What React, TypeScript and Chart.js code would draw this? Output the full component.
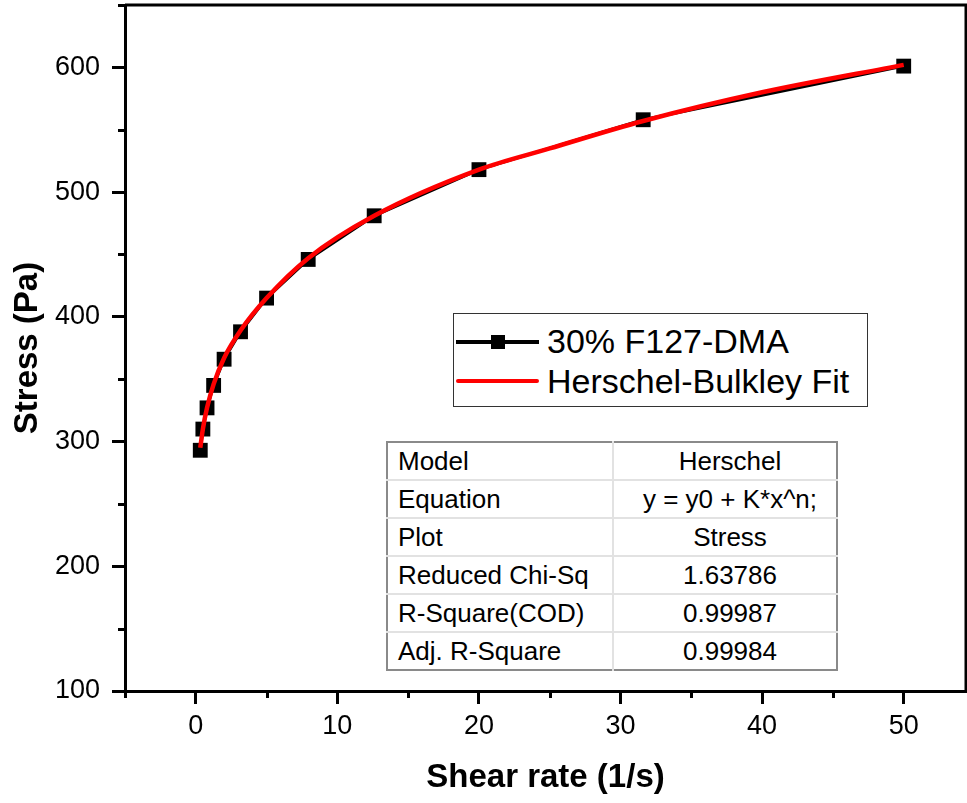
import React, { useEffect, useRef } from "react";
import { Chart, registerables } from "chart.js";

Chart.register(...registerables);

// ---- data ----
const shearRate = [0.316, 0.5, 0.794, 1.26, 2, 3.16, 5, 7.94, 12.6, 20, 31.6, 50];
const stress = [293, 310, 327, 345, 366, 388, 415, 446, 481, 518, 558, 601];
const fitX = [0.316, 0.5, 0.794, 1.26, 2, 3.16, 5, 7.94, 12.6, 20, 25, 31.6, 40, 50];
const fitY = [295, 310, 327, 346, 367, 389, 415, 447, 481, 518, 535, 557, 580, 602];

const xMajorTicks = [0, 10, 20, 30, 40, 50];
const xMinorTicks = [-5, 5, 15, 25, 35, 45];
const yMajorTicks = [100, 200, 300, 400, 500, 600];
const yMinorTicks = [150, 250, 350, 450, 550, 650];

const seriesLabel = "30% F127-DMA";
const fitLabel = "Herschel-Bulkley Fit";
const tableLabels = ["Model", "Equation", "Plot", "Reduced Chi-Sq", "R-Square(COD)", "Adj. R-Square"];
const tableValues = ["Herschel", "y = y0 + K*x^n;", "Stress", "1.63786", "0.99987", "0.99984"];

const FONT = "'Liberation Sans', Arial, sans-serif";

const minorTicksPlugin = {
  id: "minorTicksFrame",
  afterDraw(chart: any) {
    const { ctx, chartArea } = chart;
    const x = chart.scales.x;
    const y = chart.scales.y;
    ctx.save();
    ctx.strokeStyle = "#000";
    ctx.lineWidth = 3;
    ctx.lineCap = "butt";
    xMinorTicks.forEach((v) => {
      const px = Math.round(x.getPixelForValue(v)) + 0.5;
      ctx.beginPath();
      ctx.moveTo(px, chartArea.bottom);
      ctx.lineTo(px, chartArea.bottom + 7);
      ctx.stroke();
    });
    yMinorTicks.forEach((v) => {
      const py = Math.round(y.getPixelForValue(v)) + 0.5;
      ctx.beginPath();
      ctx.moveTo(chartArea.left, py);
      ctx.lineTo(chartArea.left - 7, py);
      ctx.stroke();
    });
    // top and right frame
    ctx.beginPath();
    ctx.moveTo(chartArea.left, chartArea.top);
    ctx.lineTo(chartArea.right, chartArea.top);
    ctx.lineTo(chartArea.right, chartArea.bottom);
    ctx.stroke();
    ctx.restore();
  },
};

export default function App() {
  const canvasRef = useRef<HTMLCanvasElement | null>(null);

  useEffect(() => {
    document.body.style.margin = "0";
    const canvas = canvasRef.current;
    if (!canvas) return;
    const chart = new Chart(canvas, {
      type: "line",
      data: {
        datasets: [
          {
            label: fitLabel,
            data: fitX.map((v, i) => ({ x: v, y: fitY[i] })),
            borderColor: "#ff0000",
            borderWidth: 4.5,
            pointRadius: 0,
            cubicInterpolationMode: "monotone",
            fill: false,
          },
          {
            label: seriesLabel,
            data: shearRate.map((v, i) => ({ x: v, y: stress[i] })),
            borderColor: "#000",
            backgroundColor: "#000",
            borderWidth: 3,
            pointStyle: "rect",
            pointRadius: 10.5,
            pointBorderWidth: 0,
            tension: 0,
            fill: false,
          },
        ],
      },
      plugins: [minorTicksPlugin],
      options: {
        responsive: false,
        animation: false,
        layout: { autoPadding: false, padding: { top: 5, right: 1, left: 0, bottom: 0 } },
        plugins: { legend: { display: false }, tooltip: { enabled: false } },
        scales: {
          x: {
            type: "linear",
            min: -5,
            max: 54.4,
            afterBuildTicks: (s: any) => {
              s.ticks = xMajorTicks.map((v) => ({ value: v }));
            },
            afterFit: (s: any) => {
              s.height = 112;
              s.paddingLeft = 0;
              s.paddingRight = 0;
              s.paddingTop = 0;
              s.paddingBottom = 0;
            },
            ticks: { color: "#000", font: { family: FONT, size: 27 }, padding: 6, maxRotation: 0 },
            grid: { drawOnChartArea: false, drawTicks: true, tickLength: 13, tickWidth: 3, tickColor: "#000" },
            border: { display: true, width: 3, color: "#000" },
            title: {
              display: true,
              text: "Shear rate (1/s)",
              color: "#000",
              font: { family: FONT, size: 33, weight: "bold" },
              padding: { top: 0, bottom: 5 },
            },
          },
          y: {
            type: "linear",
            min: 100,
            max: 650,
            afterBuildTicks: (s: any) => {
              s.ticks = yMajorTicks.map((v) => ({ value: v }));
            },
            afterFit: (s: any) => {
              s.width = 125;
              s.paddingLeft = 0;
              s.paddingRight = 0;
              s.paddingTop = 0;
              s.paddingBottom = 0;
            },
            ticks: { color: "#000", font: { family: FONT, size: 27 }, padding: 12 },
            grid: { drawOnChartArea: false, drawTicks: true, tickLength: 13, tickWidth: 3, tickColor: "#000" },
            border: { display: true, width: 3, color: "#000" },
            title: {
              display: true,
              text: "Stress (Pa)",
              color: "#000",
              font: { family: FONT, size: 33, weight: "bold" },
              padding: { top: 8, bottom: 0 },
            },
          },
        },
      },
    } as any);
    return () => chart.destroy();
  }, []);

  return (
    <div style={{ position: "relative", width: 967, height: 803, background: "#fff", fontFamily: FONT }}>
      <canvas ref={canvasRef} width={967} height={803} style={{ position: "absolute", left: 0, top: 0 }} />
      {/* legend */}
      <div
        style={{
          position: "absolute",
          left: 453,
          top: 313,
          width: 415,
          height: 94,
          border: "1.5px solid #333",
          boxSizing: "border-box",
          background: "#fff",
        }}
      >
        <div style={{ position: "absolute", left: 2, top: 26, width: 83, height: 4, background: "#000" }} />
        <div style={{ position: "absolute", left: 37, top: 21, width: 14, height: 14, background: "#000" }} />
        <div style={{ position: "absolute", left: 93, top: 6, fontSize: 34, lineHeight: "42px", color: "#000", whiteSpace: "nowrap" }}>
          {seriesLabel}
        </div>
        <div style={{ position: "absolute", left: 2, top: 65, width: 83, height: 4, background: "#ff0000", borderRadius: 2 }} />
        <div style={{ position: "absolute", left: 93, top: 46, fontSize: 34, lineHeight: "42px", color: "#000", whiteSpace: "nowrap" }}>
          {fitLabel}
        </div>
      </div>
      {/* fit table */}
      <table
        style={{
          position: "absolute",
          left: 386,
          top: 441,
          width: 452,
          height: 228,
          borderCollapse: "collapse",
          border: "2px solid #8a8a8a",
          background: "#fff",
          fontSize: 26,
          color: "#000",
          tableLayout: "fixed",
        }}
      >
        <tbody>
          {tableLabels.map((lab, i) => (
            <tr key={lab} style={{ height: 38 }}>
              <td
                style={{
                  width: 214,
                  padding: "0 0 0 10px",
                  borderTop: i > 0 ? "2px solid #e2e2e2" : "none",
                  borderRight: "2px solid #e2e2e2",
                  whiteSpace: "nowrap",
                  lineHeight: "30px",
                }}
              >
                {lab}
              </td>
              <td
                style={{
                  padding: "0 0 0 10px",
                  textAlign: "center",
                  borderTop: i > 0 ? "2px solid #e2e2e2" : "none",
                  whiteSpace: "nowrap",
                  lineHeight: "30px",
                }}
              >
                {tableValues[i]}
              </td>
            </tr>
          ))}
        </tbody>
      </table>
    </div>
  );
}
